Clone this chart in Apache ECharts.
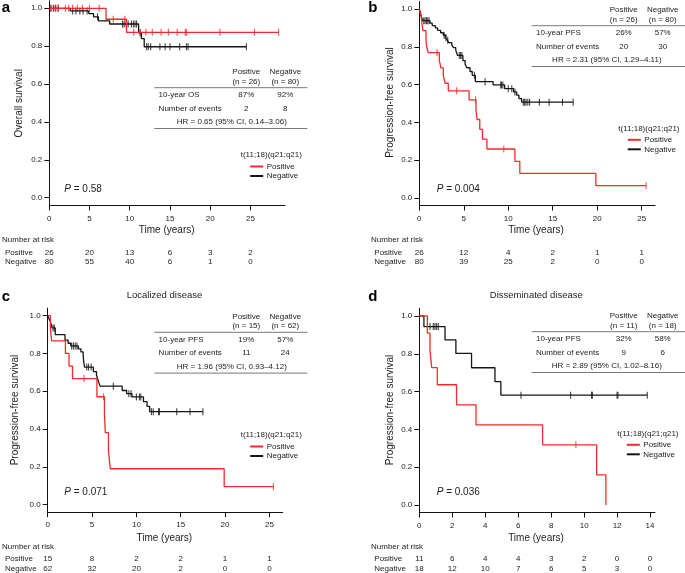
<!DOCTYPE html>
<html>
<head>
<meta charset="utf-8">
<script src="https://cdn.jsdelivr.net/npm/echarts@6/dist/echarts.min.js"></script>
<style>
  html, body { margin: 0; padding: 0; background: #fff; }
  #chart { width: 685px; height: 573px; }
</style>
</head>
<body>
<div id="chart"></div>
<script>
// ---- data ----
// a: overall survival
const aPosT = [0, 7.05, 9.6, 28.5];
const aPosS = [1, 0.942, 0.873, 0.873];
const aPosCens = [0.2, 0.7, 1.1, 2.0, 2.4, 2.9, 3.5, 4.1, 5.0, 6.2, 7.95, 9.4, 10.5, 11.3, 12.0, 12.8, 13.9, 14.8, 15.9, 16.9, 17.05, 21.2, 25.5, 28.5];
const aNegT = [0, 2.6, 4.9, 5.5, 6.1, 7.5, 11.1, 11.45, 11.8, 24.5];
const aNegS = [1, 0.986, 0.972, 0.955, 0.934, 0.917, 0.87, 0.84, 0.797, 0.797];
const aNegCens = [0.2, 0.5, 0.8, 1.1, 2.9, 3.3, 3.8, 4.2, 4.7, 6.0, 9.1, 9.3, 9.55, 9.8, 10.2, 10.45, 10.65, 10.85, 11.3, 12.1, 12.3, 12.6, 13.75, 14.4, 15.0, 16.2, 17.05, 17.25, 24.5];

// b: PFS, all patients
const bPosT = [0, 0.2, 0.3, 0.4, 0.75, 0.8, 1.0, 2.25, 2.43, 2.7, 2.9, 3.26, 5.6, 6.37, 6.5, 6.8, 7.1, 7.6, 10.75, 11.3, 19.85, 25.5];
const bPosS = [1, 0.962, 0.923, 0.885, 0.846, 0.808, 0.769, 0.728, 0.688, 0.647, 0.607, 0.567, 0.519, 0.467, 0.415, 0.363, 0.311, 0.259, 0.194, 0.13, 0.065, 0.065];
const bPosCens = [2.0, 4.2, 6.33, 9.5, 25.5];
const bNegT = [0, 0.08, 0.15, 0.22, 0.3, 0.4, 1.2, 1.45, 1.8, 2.05, 2.4, 2.7, 2.95, 3.15, 3.3, 3.65, 3.85, 4.1, 4.3, 4.9, 5.15, 5.35, 5.7, 5.95, 6.3, 8.3, 9.6, 10.6, 10.95, 11.2, 11.5, 17.3];
const bNegS = [1, 0.988, 0.975, 0.962, 0.95, 0.938, 0.925, 0.912, 0.9, 0.887, 0.874, 0.861, 0.848, 0.835, 0.822, 0.808, 0.795, 0.781, 0.754, 0.727, 0.708, 0.689, 0.669, 0.649, 0.615, 0.598, 0.578, 0.561, 0.544, 0.526, 0.507, 0.507];
const bNegCens = [0.5, 0.65, 0.8, 0.95, 1.1, 2.8, 3.0, 3.2, 4.5, 4.65, 4.8, 6.2, 7.4, 9.15, 9.25, 9.4, 10.0, 10.4, 10.75, 11.7, 11.85, 12.0, 12.2, 12.4, 13.5, 14.6, 16.1, 17.3];

// c: PFS, localized disease
const cPosT = [0, 0.3, 0.45, 2.0, 2.4, 2.8, 5.55, 6.4, 6.5, 6.85, 7.05, 19.9, 25.45];
const cPosS = [1, 0.933, 0.867, 0.8, 0.733, 0.667, 0.571, 0.476, 0.381, 0.286, 0.19, 0.095, 0.095];
const cPosCens = [4.1, 6.3, 25.45];
const cNegT = [0, 0.15, 0.3, 0.4, 0.5, 0.85, 1.95, 2.3, 2.6, 3.45, 3.75, 4.0, 4.05, 4.15, 5.15, 5.5, 5.7, 5.9, 8.4, 8.9, 9.5, 10.8, 11.2, 11.5, 17.5];
const cNegS = [1, 0.984, 0.968, 0.952, 0.935, 0.9, 0.871, 0.854, 0.84, 0.824, 0.808, 0.792, 0.76, 0.728, 0.704, 0.686, 0.655, 0.627, 0.604, 0.587, 0.57, 0.545, 0.52, 0.492, 0.492];
const cNegCens = [0.6, 0.75, 2.7, 2.9, 3.1, 3.3, 4.4, 4.6, 4.9, 7.4, 9.15, 9.4, 10.0, 10.35, 10.5, 11.7, 11.9, 12.5, 12.6, 14.55, 16.05, 17.5];

// d: PFS, disseminated disease
const dPosT = [0, 0.49, 0.65, 0.75, 1.09, 2.26, 3.44, 7.48, 10.76, 11.32];
const dPosS = [1, 0.909, 0.818, 0.727, 0.636, 0.53, 0.424, 0.318, 0.159, 0];
const dPosCens = [9.5];
const dNegT = [0, 0.28, 1.56, 2.22, 3.17, 4.59, 4.95, 13.83];
const dNegS = [1, 0.944, 0.873, 0.802, 0.726, 0.652, 0.581, 0.581];
const dNegCens = [0.65, 0.85, 0.95, 1.05, 1.15, 6.17, 9.18, 10.45, 10.5, 12.0, 12.05, 13.83];

// axis ticks
const yTicks = [0, 0.2, 0.4, 0.6, 0.8, 1.0];
const xTicks25 = [0, 5, 10, 15, 20, 25];
const xTicks14 = [0, 2, 4, 6, 8, 10, 12, 14];

// number at risk
const aRiskPos = [26, 20, 13, 6, 3, 2];
const aRiskNeg = [80, 55, 40, 6, 1, 0];
const bRiskPos = [26, 12, 4, 2, 1, 1];
const bRiskNeg = [80, 39, 25, 2, 0, 0];
const cRiskPos = [15, 8, 2, 2, 1, 1];
const cRiskNeg = [62, 32, 20, 2, 0, 0];
const dRiskPos = [11, 6, 4, 4, 3, 2, 0, 0];
const dRiskNeg = [18, 12, 10, 7, 6, 5, 3, 0];

// summary tables
const tableRowLabel = ['10-year OS', '10-year PFS', '10-year PFS', '10-year PFS'];
const tableN = [[26, 80], [26, 80], [15, 62], [11, 18]];
const tableRate = [['87%', '92%'], ['26%', '57%'], ['19%', '57%'], ['32%', '58%']];
const tableEvents = [[2, 8], [20, 30], [11, 24], [9, 6]];
const tableHR = ['HR = 0.65 (95% CI, 0.14–3.06)', 'HR = 2.31 (95% CI, 1.29–4.11)',
                 'HR = 1.96 (95% CI, 0.93–4.12)', 'HR = 2.89 (95% CI, 1.02–8.16)'];
const pValues = ['0.58', '0.004', '0.071', '0.036'];
const panelLetters = ['a', 'b', 'c', 'd'];
const panelTitles = ['', '', 'Localized disease', 'Disseminated disease'];
const yTitles = ['Overall survival', 'Progression-free survival', 'Progression-free survival', 'Progression-free survival'];

const RED = '#f22a2a';
const BLACK = '#151515';
const FONT = '"Liberation Sans", Arial, Helvetica, sans-serif';

// layout of the four panels (pixels)
const layout = [
  { grid: [49.3, 0.7, 235.7, 204.6], xmax: 29.3, ticks: xTicks25, letter: [1.7, 8], title: null,
    table: [154.3, 307.3, 87.7], legend: [240.7, 155], p: [64.3, 189], xt: [166.7, 230.7], yt: [19, 103.3],
    risk: [2, 5, 240, 252.7, 261.7], riskPos: aRiskPos, riskNeg: aRiskNeg },
  { grid: [419.3, 1.4, 235.7, 204.1], xmax: 26.5, ticks: xTicks25, letter: [368.3, 8], title: null,
    table: [531.7, 685, 25.7], legend: [618.3, 128.3], p: [436.7, 189], xt: [536, 230.7], yt: [390.5, 102.5],
    risk: [371, 374.3, 240, 252.7, 261.7], riskPos: bRiskPos, riskNeg: bRiskNeg },
  { grid: [47.7, 308.1, 235, 204.1], xmax: 26.5, ticks: xTicks25, letter: [1.7, 297], title: [164.5, 295],
    table: [154.3, 307.3, 332.3], legend: [240.7, 435], p: [64.3, 492.3], xt: [164.3, 538.3], yt: [15.7, 410],
    risk: [2, 5, 546.7, 559, 568.3], riskPos: cRiskPos, riskNeg: cRiskNeg },
  { grid: [419.3, 308.4, 235.7, 204.1], xmax: 14.3, ticks: xTicks14, letter: [368.3, 297], title: [536.3, 295],
    table: [531.7, 685, 331.7], legend: [617.3, 433.3], p: [436.7, 492.3], xt: [536, 538.3], yt: [390.5, 410],
    risk: [371, 374.3, 546.7, 559, 568.3], riskPos: dRiskPos, riskNeg: dRiskNeg }
];

const curves = [
  [aNegT, aNegS, aNegCens, aPosT, aPosS, aPosCens],
  [bNegT, bNegS, bNegCens, bPosT, bPosS, bPosCens],
  [cNegT, cNegS, cNegCens, cPosT, cPosS, cPosCens],
  [dNegT, dNegS, dNegCens, dPosT, dPosS, dPosCens]
];

// survival level at time t (step function lookup)
function survAt(T, S, t) {
  let v = S[0];
  for (let i = 0; i < T.length; i++) { if (T[i] <= t) v = S[i]; }
  return v;
}

function kmSeries(idx, T, S, cens, color) {
  return [
    {
      type: 'line', xAxisIndex: idx, yAxisIndex: idx, step: 'end',
      showSymbol: false, symbol: 'none', silent: true,
      data: T.map((t, i) => [t, S[i]]),
      lineStyle: { color: color, width: 1.3 }
    },
    {
      type: 'scatter', xAxisIndex: idx, yAxisIndex: idx, silent: true,
      symbol: 'rect', symbolSize: [1.1, 7],
      data: cens.map(t => [t, survAt(T, S, t)]),
      itemStyle: { color: color }
    }
  ];
}

const chart = echarts.init(document.getElementById('chart'), null, { renderer: 'canvas' });

const grids = [], xAxes = [], yAxes = [], series = [];
layout.forEach((L, i) => {
  grids.push({ left: L.grid[0], top: L.grid[1], width: L.grid[2], height: L.grid[3], outerBoundsMode: 'none', containLabel: false });
  xAxes.push({
    type: 'value', gridIndex: i, min: 0, max: L.xmax,
    axisLine: { onZero: false, lineStyle: { color: '#111', width: 1 } },
    axisTick: { customValues: L.ticks, length: 5, lineStyle: { color: '#111', width: 1 } },
    axisLabel: { customValues: L.ticks, fontSize: 8, color: '#222', margin: 9, fontFamily: FONT },
    splitLine: { show: false }
  });
  yAxes.push({
    type: 'value', gridIndex: i, min: -0.04, max: 1.04,
    axisLine: { onZero: false, lineStyle: { color: '#111', width: 1 } },
    axisTick: { customValues: yTicks, length: 5, lineStyle: { color: '#111', width: 1 } },
    axisLabel: { customValues: yTicks, fontSize: 8, color: '#222', margin: 7, fontFamily: FONT,
                 formatter: v => v.toFixed(1) },
    splitLine: { show: false }
  });
  const c = curves[i];
  series.push(...kmSeries(i, c[0], c[1], c[2], BLACK));
  series.push(...kmSeries(i, c[3], c[4], c[5], RED));
});

chart.setOption({
  animation: false,
  backgroundColor: '#fff',
  grid: grids, xAxis: xAxes, yAxis: yAxes, series: series
});

// ---- annotations ----
function txt(x, y, s, o) {
  return { type: 'text', x: x, y: y, silent: true,
    style: Object.assign({ text: s, fill: '#222', fontSize: 8, fontFamily: FONT,
      textAlign: 'left', textVerticalAlign: 'middle' }, o || {}) };
}
function seg(x1, y1, x2, y2, color, w) {
  return { type: 'line', silent: true, shape: { x1: x1, y1: y1, x2: x2, y2: y2 },
    style: { stroke: color, lineWidth: w } };
}

const g = [];
layout.forEach((L, i) => {
  g.push(txt(L.letter[0], L.letter[1], panelLetters[i], { fontSize: 15, fontWeight: 'bold', fill: '#000' }));
  if (L.title) g.push(txt(L.title[0], L.title[1], panelTitles[i], { fontSize: 9.5, textAlign: 'center' }));

  // axis titles
  g.push(txt(L.xt[0], L.xt[1], 'Time (years)', { fontSize: 10, textAlign: 'center' }));
  g.push(Object.assign(txt(L.yt[0], L.yt[1], yTitles[i], { fontSize: 10, textAlign: 'center' }), { rotation: Math.PI / 2 }));

  // table
  const [x0, x1, ty] = L.table;
  const c1 = x0 + 92, c2 = x0 + 131;
  g.push(txt(c1, ty - 16, 'Positive', { textAlign: 'center' }));
  g.push(txt(c2, ty - 16, 'Negative', { textAlign: 'center' }));
  g.push(txt(c1, ty - 6.2, '(n = ' + tableN[i][0] + ')', { textAlign: 'center' }));
  g.push(txt(c2, ty - 6.2, '(n = ' + tableN[i][1] + ')', { textAlign: 'center' }));
  g.push(seg(x0, ty, x1, ty, '#555', 0.8));
  g.push(txt(x0 + 4.3, ty + 7.2, tableRowLabel[i]));
  g.push(txt(c1, ty + 7.2, tableRate[i][0], { textAlign: 'center' }));
  g.push(txt(c2, ty + 7.2, tableRate[i][1], { textAlign: 'center' }));
  g.push(txt(x0 + 4.3, ty + 20.7, 'Number of events'));
  g.push(txt(c1, ty + 20.7, String(tableEvents[i][0]), { textAlign: 'center' }));
  g.push(txt(c2, ty + 20.7, String(tableEvents[i][1]), { textAlign: 'center' }));
  g.push(txt((x0 + Math.min(x1, 680)) / 2 + 1, ty + 34.3, tableHR[i], { textAlign: 'center' }));
  g.push(seg(x0, ty + 40.8, x1, ty + 40.8, '#555', 0.8));

  // legend
  const [lx, ly] = L.legend;
  g.push(txt(lx, ly, 't(11;18)(q21;q21)'));
  g.push(seg(lx + 9.5, ly + 11.5, lx + 22.5, ly + 11.5, RED, 2));
  g.push(txt(lx + 26, ly + 11.5, 'Positive'));
  g.push(seg(lx + 9.5, ly + 21, lx + 22.5, ly + 21, BLACK, 2));
  g.push(txt(lx + 26, ly + 21, 'Negative'));

  // P value
  g.push(txt(L.p[0], L.p[1], '{i|P} = ' + pValues[i], { fontSize: 10,
    rich: { i: { fontStyle: 'italic', fontSize: 10, fontFamily: FONT, fill: '#222' } } }));

  // number at risk
  const [rx, lx2, ry0, ry1, ry2] = L.risk;
  g.push(txt(rx, ry0, 'Number at risk'));
  g.push(txt(lx2, ry1, 'Positive'));
  g.push(txt(lx2, ry2, 'Negative'));
  L.ticks.forEach((t, k) => {
    const px = chart.convertToPixel({ xAxisIndex: i }, t);
    g.push(txt(px, ry1, String(L.riskPos[k]), { textAlign: 'center' }));
    g.push(txt(px, ry2, String(L.riskNeg[k]), { textAlign: 'center' }));
  });
});

chart.setOption({ graphic: { elements: g } });
window.addEventListener('resize', () => chart.resize());
</script>
</body>
</html>
